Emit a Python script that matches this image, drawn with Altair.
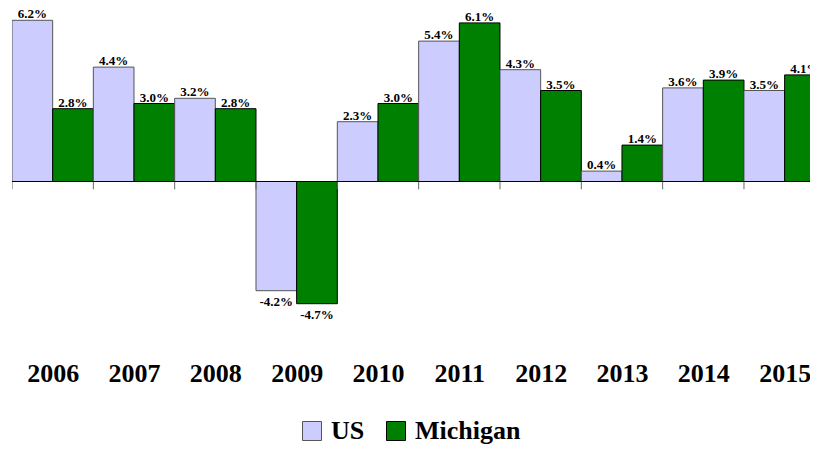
import altair as alt
import pandas as pd

years = ["2006", "2007", "2008", "2009", "2010", "2011", "2012", "2013", "2014", "2015"]
us = [6.2, 4.4, 3.2, -4.2, 2.3, 5.4, 4.3, 0.4, 3.6, 3.5]
michigan = [2.8, 3.0, 2.8, -4.7, 3.0, 6.1, 3.5, 1.4, 3.9, 4.1]
series = ["US", "Michigan"]
colors = ["#CCCCFF", "#008000"]
strokes = ["#555555", "#000000"]

rows = []
for i, y in enumerate(years):
    for j, (s, vals) in enumerate(zip(series, [us, michigan])):
        rows.append({"year": y, "series": s, "value": vals[i], "idx": i, "sub": j,
                     "label": f"{vals[i]:.1f}%"})
df = pd.DataFrame(rows)
bounds = pd.DataFrame({"b": list(range(len(years) + 1))})

FONT = "Liberation Serif"
W, H = 798, 352
group_px = 81.33
xmax = W / group_px
px_per_unit = 26.0
zero_y = 173.5
ymax = zero_y / px_per_unit
ymin = ymax - H / px_per_unit

xscale = alt.Scale(domain=[0, xmax], nice=False, zero=False)
yscale = alt.Scale(domain=[ymin, ymax], nice=False, zero=False)

label_expr = "[" + ",".join(f"'{y}'" for y in years) + "][floor(datum.value)]"
xaxis = alt.Axis(values=[i + 0.5 for i in range(len(years))], labelExpr=label_expr,
                 domain=False, ticks=False, grid=False, title=None,
                 labelFont=FONT, labelFontSize=26, labelFontWeight="bold",
                 labelColor="black", labelPadding=0, labelFlush=False,
                 labelOverlap=False, labelBaseline="top")

base = alt.Chart(df).transform_calculate(
    x0="datum.idx + datum.sub * 0.5",
    x1="datum.idx + datum.sub * 0.5 + 0.5",
    xm="datum.idx + datum.sub * 0.5 + 0.25",
)

bars = base.mark_bar(strokeWidth=1, clip=True).encode(
    x=alt.X("x0:Q", scale=xscale, axis=xaxis),
    x2="x1:Q",
    y=alt.Y("value:Q", scale=yscale, axis=None),
    y2=alt.datum(0),
    fill=alt.Fill("series:N", scale=alt.Scale(domain=series, range=colors),
                  legend=alt.Legend(orient="none", legendX=287, legendY=410,
                                    direction="horizontal", title=None,
                                    labelFont=FONT, labelFontSize=26,
                                    labelFontWeight="bold", labelColor="black",
                                    symbolType="square", symbolSize=361,
                                    symbolStrokeColor="#333333",
                                    symbolStrokeWidth=1, symbolOpacity=1,
                                    columnPadding=18, labelOffset=6)),
    stroke=alt.Stroke("series:N", scale=alt.Scale(domain=series, range=strokes),
                      legend=None),
)

txt_kw = dict(font=FONT, fontSize=13, fontWeight="bold", color="black")
pos_text = base.transform_filter("datum.value >= 0").mark_text(
    baseline="alphabetic", dy=-2, **txt_kw).encode(
    x=alt.X("xm:Q", scale=xscale), y=alt.Y("value:Q", scale=yscale), text="label:N")
neg_text = base.transform_filter("datum.value < 0").mark_text(
    baseline="top", dy=5, **txt_kw).encode(
    x=alt.X("xm:Q", scale=xscale), y=alt.Y("value:Q", scale=yscale), text="label:N")

zero_rule = alt.Chart(bounds).mark_rule(color="black", strokeWidth=1.2).encode(
    y=alt.Y(datum=0, scale=yscale))
ticks = alt.Chart(bounds).mark_rule(color="#666666", strokeWidth=1, clip=True).encode(
    x=alt.X("b:Q", scale=xscale),
    y=alt.Y(datum=0, scale=yscale),
    y2=alt.datum(-0.3),
)

chart = alt.layer(bars, ticks, zero_rule, pos_text, neg_text).properties(
    width=W, height=H,
    background="white",
    autosize=alt.AutoSizeParams(type="none"),
    padding={"left": 4, "top": 0, "right": 0, "bottom": 88},
).configure_view(stroke="transparent", strokeWidth=0)

chart.save("out.html", embed_options={"renderer": "svg", "actions": False})
